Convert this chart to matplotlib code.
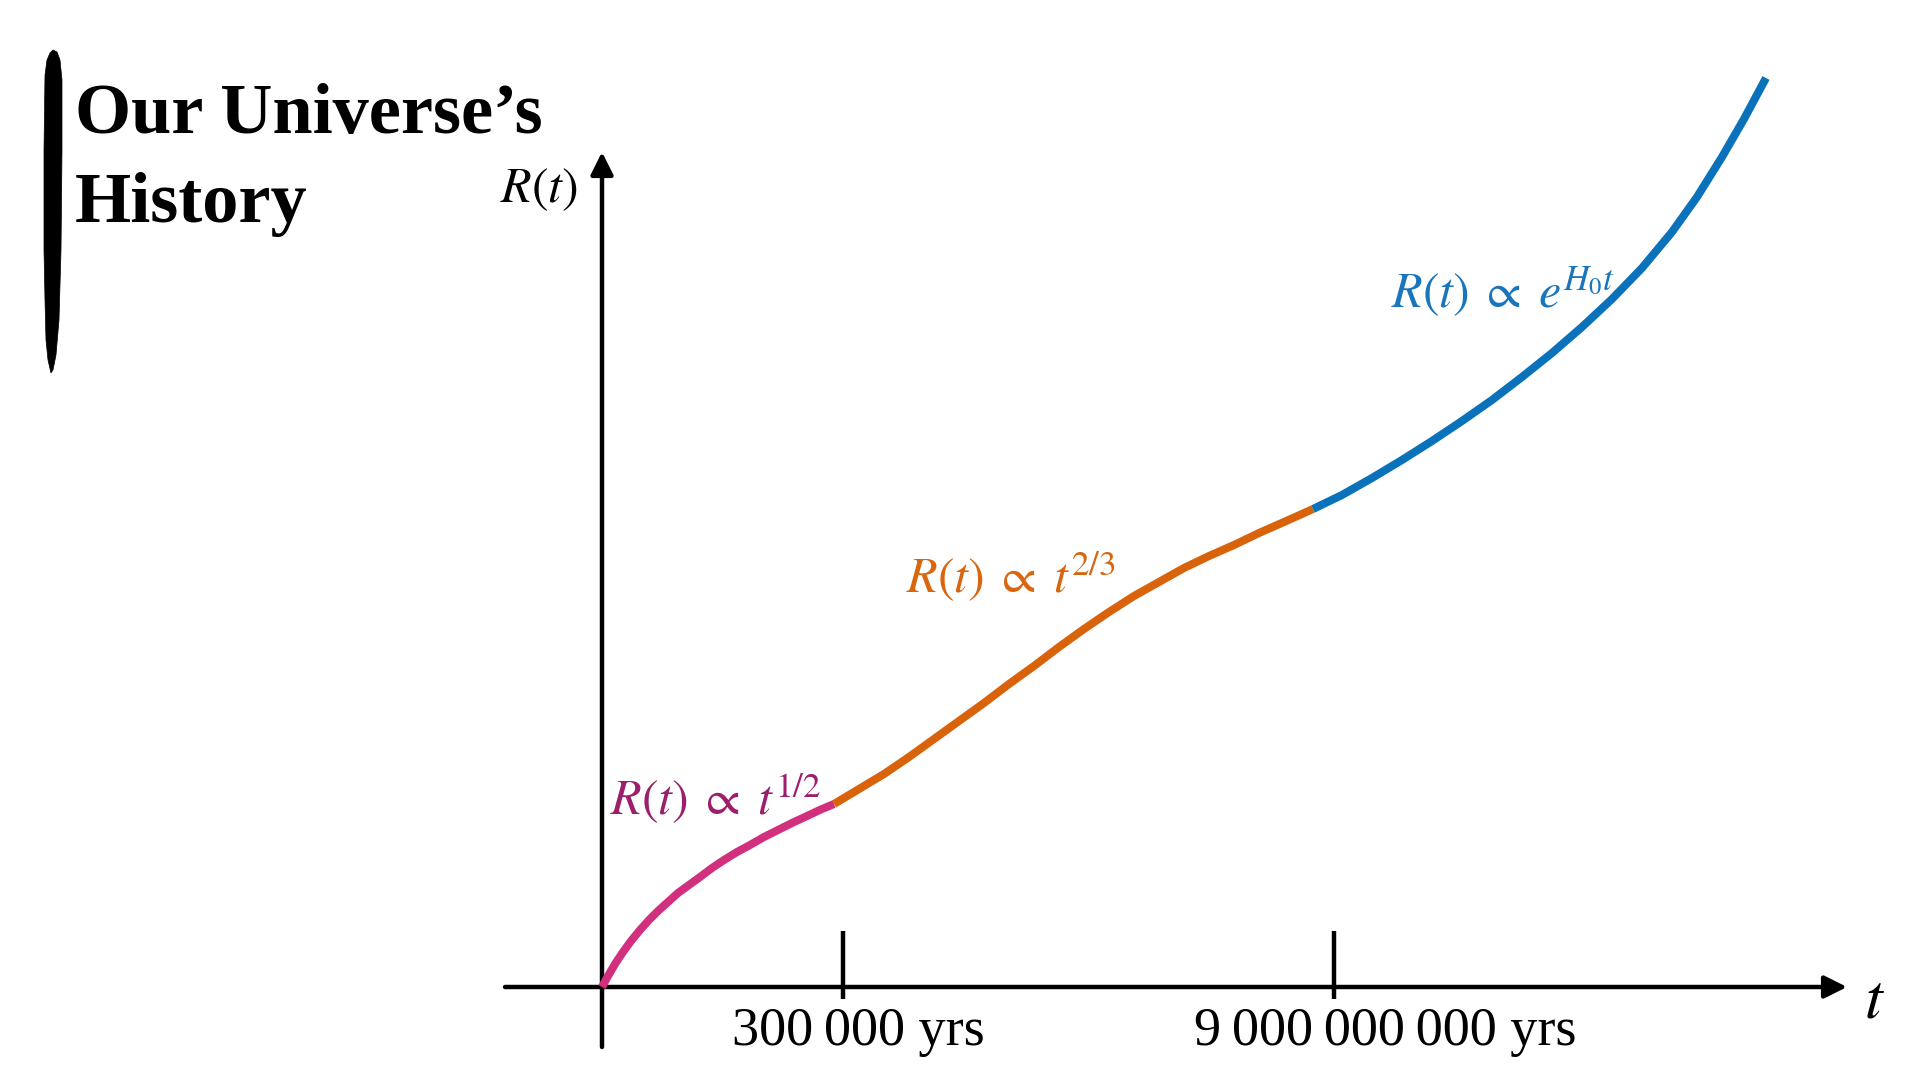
import matplotlib
matplotlib.use("Agg")
import matplotlib.pyplot as plt
from matplotlib.patches import Polygon

plt.rcParams['mathtext.fontset'] = 'stix'

# ---------------- data ----------------
# radiation era  R ~ t^(1/2)
rad_t = [0.00, 0.06, 0.13, 0.21, 0.29, 0.38, 0.47, 0.56, 0.66, 0.76, 0.87,
         0.98, 1.10, 1.22, 1.35, 1.48, 1.62, 1.76, 1.90, 2.05, 2.20, 2.32]
rad_R = [0.00, 0.11, 0.23, 0.35, 0.46, 0.57, 0.67, 0.76, 0.85, 0.94, 1.02,
         1.10, 1.19, 1.27, 1.35, 1.42, 1.50, 1.57, 1.64, 1.71, 1.78, 1.83]
# matter era  R ~ t^(2/3)
mat_t = [2.32, 2.57, 2.82, 3.07, 3.32, 3.57, 3.82, 4.07, 4.32, 4.57, 4.82,
         5.07, 5.32, 5.57, 5.82, 6.07, 6.32, 6.57, 6.82, 7.11]
mat_R = [1.83, 1.98, 2.13, 2.30, 2.48, 2.66, 2.84, 3.03, 3.21, 3.40, 3.58,
         3.75, 3.91, 4.05, 4.19, 4.31, 4.42, 4.54, 4.65, 4.78]
# dark energy era  R ~ exp(H0 t)
de_t = [7.11, 7.40, 7.70, 8.00, 8.30, 8.60, 8.90, 9.20, 9.50, 9.80, 10.10,
        10.40, 10.70, 10.95, 11.20, 11.42, 11.64]
de_R = [4.78, 4.92, 5.09, 5.27, 5.46, 5.66, 5.87, 6.10, 6.34, 6.60, 6.88,
        7.19, 7.55, 7.90, 8.30, 8.68, 9.09]

tick_pos = [2.41, 7.32]
tick_labels = ["300\u2009000 yrs", "9\u2009000\u2009000\u2009000 yrs"]

era_labels = [r"$R(t)\;\propto\;t^{1/2}$", r"$R(t)\;\propto\;t^{2/3}$", r"$R(t)\;\propto\;e^{H_0 t}$"]
title_lines = ["Our Universe\u2019s", "History"]

# ---------------- styling ----------------
col_rad, col_rad_lbl = "#D2307F", "#9C1F6D"
col_mat, col_mat_lbl = "#D9630B", "#D9660F"
col_de, col_de_lbl = "#0A72BA", "#1A76BC"
serif = ["Liberation Serif", "DejaVu Serif"]

W, H = 1920, 1080
fig = plt.figure(figsize=(19.2, 10.8), dpi=100)
ax = fig.add_axes([0, 0, 1, 1])
ax.set_xlim(-6.02, 13.18)
ax.set_ylim(-0.93, 9.87)
ax.axis("off")

# axes with arrows
arrow_kw = dict(arrowstyle="-|>", lw=3.2, color="black", mutation_scale=34,
                shrinkA=0, shrinkB=0)
ax.annotate("", xy=(12.45, 0), xytext=(-0.97, 0), arrowprops=arrow_kw)
ax.annotate("", xy=(0, 8.35), xytext=(0, -0.60), arrowprops=arrow_kw)

# ticks
ax.vlines(tick_pos, -0.12, 0.56, lw=3.2, color="black")
label_dx = [15, 51]
for tp, tl, dx in zip(tick_pos, tick_labels, label_dx):
    ax.annotate(tl, xy=(tp, -0.58), xytext=(dx, 0), textcoords="offset pixels",
                ha="center", va="baseline", fontsize=39, family=serif)

# curves
lw = 5.8
for tt, rr, cc in ((rad_t, rad_R, col_rad), (mat_t, mat_R, col_mat), (de_t, de_R, col_de)):
    ax.plot(tt, rr, color=cc, lw=lw, solid_capstyle="butt", solid_joinstyle="round", zorder=3)

# era labels
ax.text(0.08, 1.72, era_labels[0], color=col_rad_lbl, fontsize=36, ha="left", va="baseline")
ax.text(3.04, 3.94, era_labels[1], color=col_mat_lbl, fontsize=36, ha="left", va="baseline")
ax.text(7.89, 6.79, era_labels[2], color=col_de_lbl, fontsize=36, ha="left", va="baseline")

# axis labels
ax.text(-1.02, 7.85, r"$R(t)$", fontsize=36, ha="left", va="baseline")
ax.text(12.72, -0.31, r"$t$", fontsize=46, ha="center", va="baseline")

# title
fig.text(75 / W, 1 - 133 / H, title_lines[0], fontsize=52, fontweight="bold",
         family=serif, ha="left", va="baseline")
fig.text(75 / W, 1 - 222 / H, title_lines[1], fontsize=52, fontweight="bold",
         family=serif, ha="left", va="baseline")

# brush stroke decoration
brush_px = [(50, 53), (47, 60), (45, 75), (44, 150), (44, 250), (45, 300), (46, 340),
            (48, 360), (51, 373), (53, 370), (56, 355), (59, 320), (61, 250),
            (62, 150), (62, 80), (60, 60), (57, 52), (53, 50)]
brush = Polygon([(x / W, 1 - y / H) for x, y in brush_px], closed=True,
                transform=fig.transFigure, facecolor="black", edgecolor="black", lw=0.5)
fig.patches.append(brush)

fig.savefig("out.png", dpi=100, facecolor="white")
